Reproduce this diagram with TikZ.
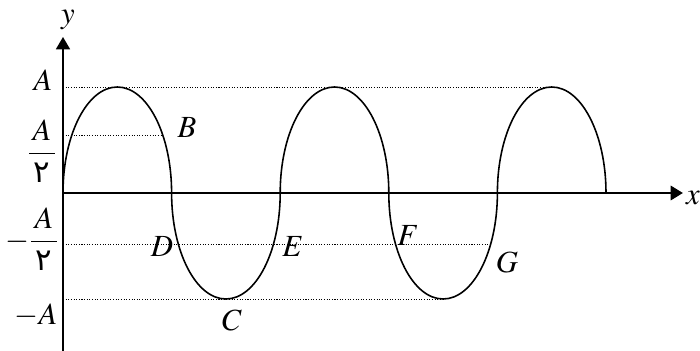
\documentclass[tikz,border=0pt]{standalone}
\usepackage{amsmath}
\usepackage{mathptmx}
\usepackage[no-math]{fontspec}
\setmainfont{Liberation Serif}
\newfontfamily\arabicfont[Script=Arabic]{DejaVu Sans}
\TeXXeTstate=1
\usepackage{tikz}
\usetikzlibrary{arrows.meta}
\newcommand{\twoar}{\mbox{\arabicfont\beginR ٢\endR}}
\tikzset{
  axisline/.style={line width=0.8pt, -{Triangle[length=7pt,width=8pt]}},
  wave/.style={line width=0.9pt},
  guide/.style={line width=0.55pt, dash pattern=on 0.6pt off 0.9pt},
  lbl/.style={font=\fontsize{17.5}{20}\selectfont, inner sep=0pt}
}

\begin{document}
\begin{tikzpicture}[x=0.02cm, y=0.02cm]
  \useasboundingbox (-63,-158) rectangle (637,193);

  % Guide lines
  \draw[guide] (0,106) -- (488.7,106);
  \draw[guide] (0,58) -- (100,58);
  \draw[guide] (0,-51) -- (427.7,-51);
  \draw[guide] (0,-106) -- (380.1,-106);

  % Axes
  \draw[axisline] (0,-158) -- (0,156);
  \draw[axisline, line width=1.7pt] (0,0) -- (620,0);
  \node[lbl] (ylab) at (5,173) {$y$};
  \node[lbl] (xlab) at (630,-5) {$x$};

  % Wave
  \draw[wave] (0,0)
    arc[start angle=180, end angle=0, x radius=54.3, y radius=106]
    arc[start angle=180, end angle=360, x radius=54.3, y radius=106]
    arc[start angle=180, end angle=0, x radius=54.3, y radius=106]
    arc[start angle=180, end angle=360, x radius=54.3, y radius=106]
    arc[start angle=180, end angle=0, x radius=54.3, y radius=106];

  % Levels
  \node[lbl] (amax) at (-20,113) {$A$};
  \node[lbl] (ahalf) at (-21,42) {$\dfrac{\,A\,}{\twoar}$};
  \node[lbl] (mhalf) at (-31,-46) {$-\dfrac{\,A\,}{\twoar}$};
  \node[lbl] (amin) at (-27,-122) {$-A$};

  % Points
  \node[lbl] (ptB) at (124,65) {$B$};
  \node[lbl] (ptC) at (169,-127) {$C$};
  \node[lbl] (ptD) at (99,-54) {$D$};
  \node[lbl] (ptE) at (230,-54) {$E$};
  \node[lbl] (ptF) at (345,-43) {$F$};
  \node[lbl] (ptG) at (444,-69) {$G$};
\end{tikzpicture}
\end{document}
